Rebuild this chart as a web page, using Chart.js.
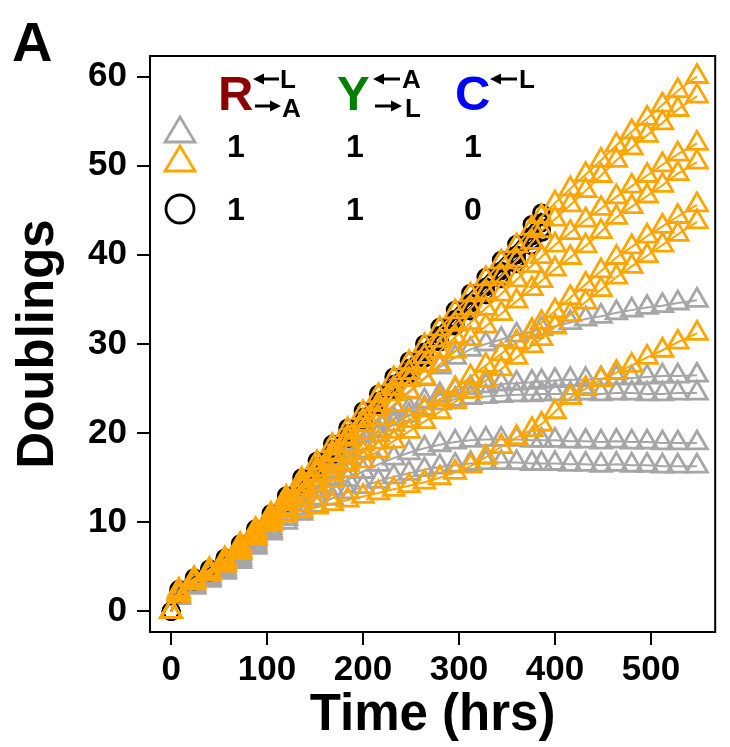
<!DOCTYPE html>
<html>
<head>
<meta charset="utf-8">
<script src="https://cdn.jsdelivr.net/npm/chart.js@4.4.0/dist/chart.umd.min.js"></script>
<style>
  html, body { margin: 0; padding: 0; background: #fff; }
  #wrap { width: 730px; height: 747px; }
</style>
</head>
<body>
<div id="wrap"><canvas id="growthChart" width="730" height="747"></canvas></div>
<script>
// Sampling times (hrs) shared by all populations
const times = [0, 8, 24, 40, 56, 72, 88, 104, 120, 136, 152, 168, 184, 200, 216, 232, 248, 264,
  280, 296, 312, 328, 344, 360, 376, 386, 400, 416, 432, 448, 464, 480, 496, 512, 528, 548];

// Black circles (R=1, Y=1, C=0), followed until ~386 hrs
const black1 = [0, 2.5, 3.8, 4.8, 6.0, 7.6, 9.3, 11.0, 13.0, 15.0, 16.9, 18.8, 20.6, 22.5, 24.4, 26.3, 28.1, 30.0, 31.9, 33.8, 35.7, 37.5, 39.4, 41.2, 43.4, 44.7];
const black2 = [0, 2.2, 3.6, 4.6, 5.8, 7.3, 9.0, 10.6, 12.5, 14.4, 16.3, 18.2, 20.0, 21.8, 23.6, 25.5, 27.3, 29.1, 31.0, 32.8, 34.6, 36.4, 38.2, 40.0, 42.1, 43.6];
const black3 = [0, 2.0, 3.4, 4.4, 5.6, 7.1, 8.7, 10.3, 12.2, 14.0, 15.8, 17.6, 19.4, 21.2, 23.0, 24.8, 26.6, 28.4, 30.2, 32.0, 33.7, 35.5, 37.3, 39.0, 41.0, 42.5];
const black4 = [0, 2.3, 3.5, 4.5, 5.7, 7.2, 8.8, 10.4, 12.3, 14.1, 15.9, 17.7, 19.5, 21.3, 23.2, 25.0, 26.8, 28.6, 30.4, 32.3, 34.1, 35.9, 37.7, 39.5, 41.6, 42.9];

// Grey triangles (1 1 1), the plateauing populations
const grey1 = [0, 1.8, 3.0, 4.0, 5.0, 6.5, 8.2, 9.8, 11.4, 13.0, 14.7, 16.3, 18.0, 19.7, 21.4, 23.0, 24.6, 26.1, 27.4, 28.5, 29.4, 30.0, 30.5, 31.0, 31.4, 31.7, 32.0, 32.4, 32.8, 33.1, 33.5, 33.8, 34.1, 34.3, 34.6, 34.9];
const grey2 = [0, 1.7, 2.9, 3.8, 4.8, 6.2, 7.9, 9.4, 10.9, 12.5, 14.1, 15.7, 17.3, 18.8, 20.3, 21.6, 22.7, 23.6, 24.3, 24.8, 25.1, 25.3, 25.5, 25.6, 25.7, 25.8, 25.9, 26.0, 26.0, 26.1, 26.2, 26.2, 26.3, 26.4, 26.4, 26.5];
const grey3 = [0, 1.6, 2.8, 3.7, 4.6, 6.0, 7.6, 9.1, 10.5, 12.0, 13.5, 15.0, 16.5, 18.0, 19.8, 21.0, 22.0, 22.8, 23.4, 23.8, 24.0, 24.1, 24.2, 24.3, 24.3, 24.4, 24.4, 24.4, 24.5, 24.4, 24.5, 24.5, 24.4, 24.4, 24.5, 24.5];
const grey4 = [0, 1.7, 2.8, 3.6, 4.5, 5.8, 7.4, 9.0, 10.4, 11.6, 12.7, 13.8, 14.8, 15.7, 16.5, 17.2, 17.8, 18.3, 18.7, 19.0, 19.2, 19.3, 19.3, 19.3, 19.2, 19.2, 19.2, 19.1, 19.1, 19.0, 19.1, 19.0, 19.0, 18.9, 18.9, 18.9];
const grey5 = [0, 1.6, 2.7, 3.5, 4.4, 5.6, 7.2, 8.8, 10.0, 11.0, 11.9, 12.7, 13.4, 14.0, 14.6, 15.1, 15.5, 15.9, 16.2, 16.4, 16.6, 16.7, 16.7, 16.7, 16.6, 16.6, 16.6, 16.5, 16.5, 16.4, 16.5, 16.4, 16.4, 16.3, 16.3, 16.3];

// Orange triangles (1 1 1), the populations that kept growing
const orange1 = [0, 2.4, 3.7, 4.7, 5.9, 7.5, 9.2, 10.9, 12.8, 14.8, 16.7, 18.6, 20.4, 22.3, 24.2, 26.1, 27.9, 29.8, 31.7, 33.6, 35.5, 37.3, 39.2, 41.0, 43.0, 44.3, 45.8, 47.4, 49.0, 50.6, 52.3, 53.8, 55.3, 56.8, 58.4, 60.0];
const orange2 = [0, 2.1, 3.5, 4.5, 5.7, 7.2, 8.9, 10.5, 12.4, 14.2, 16.0, 17.8, 19.6, 21.4, 23.2, 25.0, 26.8, 28.6, 30.4, 32.2, 34.0, 35.8, 37.6, 39.4, 41.4, 42.7, 44.0, 45.6, 47.2, 48.9, 50.6, 52.0, 53.4, 54.8, 56.3, 57.8];
const orange3 = [0, 2.2, 3.5, 4.5, 5.7, 7.2, 8.9, 10.6, 12.4, 14.2, 15.9, 17.6, 19.3, 21.0, 22.7, 24.4, 26.0, 27.6, 29.2, 30.8, 32.4, 34.0, 35.6, 37.2, 38.8, 39.8, 41.1, 42.5, 43.9, 45.2, 46.5, 47.7, 48.9, 50.1, 51.3, 52.5];
const orange4 = [0, 2.0, 3.4, 4.4, 5.5, 7.0, 8.7, 10.4, 12.1, 13.8, 15.4, 17.0, 18.6, 20.1, 21.7, 23.2, 24.7, 26.2, 27.7, 29.2, 30.6, 32.0, 33.4, 34.8, 36.2, 37.1, 38.4, 39.7, 41.0, 42.6, 44.2, 45.4, 46.6, 47.8, 49.1, 50.4];
const orange5 = [0, 1.9, 3.3, 4.3, 5.4, 6.8, 8.5, 10.2, 11.6, 12.9, 14.2, 15.4, 16.6, 17.8, 19.0, 20.2, 21.4, 22.6, 23.8, 25.0, 26.3, 27.6, 28.9, 30.2, 31.5, 32.4, 33.7, 35.2, 36.7, 38.2, 39.7, 40.9, 42.1, 43.2, 44.3, 45.6];
const orange6 = [0, 2.1, 3.4, 4.3, 5.3, 6.7, 8.3, 10.0, 11.3, 12.5, 13.6, 14.7, 15.8, 16.9, 18.0, 19.1, 20.2, 21.3, 22.4, 23.5, 24.7, 25.9, 27.2, 28.5, 29.8, 30.6, 31.9, 33.3, 34.7, 36.1, 37.5, 38.7, 39.9, 41.1, 42.3, 43.7];
const orange7 = [0, 1.8, 3.2, 4.2, 5.2, 6.6, 8.2, 9.8, 10.8, 11.3, 11.7, 12.1, 12.5, 12.9, 13.3, 13.7, 14.1, 14.5, 15.0, 15.6, 16.3, 17.3, 18.5, 19.5, 20.4, 21.0, 22.4, 24.0, 25.0, 26.0, 26.8, 27.6, 28.5, 29.3, 30.2, 31.2];

// Axis ticks
const xTicks = [0, 100, 200, 300, 400, 500];
const yTicks = [0, 10, 20, 30, 40, 50, 60];

const FONT = "'Liberation Sans', Arial, Helvetica, sans-serif";
const GREY = '#a6a6a6';
const ORANGE = '#ffa500';

function toPoints(values) {
    return values.map((v, i) => ({ x: times[i], y: v }));
}

function series(values, color, style) {
    const circle = style === 'circle';
    return {
        data: toPoints(values),
        borderColor: color,
        borderWidth: 2,
        pointStyle: style,
        pointRadius: circle ? 8 : 12,
        pointBorderWidth: 2.8,
        pointBorderColor: color,
        pointBackgroundColor: 'rgba(0,0,0,0)',
        fill: false,
        tension: 0
    };
}

// the first dataset is painted last, so orange sits on top
const datasets = [
    ...[orange7, orange6, orange5, orange4, orange3, orange2, orange1].map(v => series(v, ORANGE, 'triangle')),
    ...[black4, black3, black2, black1].map(v => series(v, '#000', 'circle')),
    ...[grey5, grey4, grey3, grey2, grey1].map(v => series(v, GREY, 'triangle'))
];

function drawArrow(ctx, x0, x1, y, pointsLeft) {
    const head = 10;
    ctx.lineWidth = 3;
    ctx.beginPath();
    if (pointsLeft) { ctx.moveTo(x0 + head, y); ctx.lineTo(x1, y); }
    else { ctx.moveTo(x0, y); ctx.lineTo(x1 - head, y); }
    ctx.stroke();
    ctx.beginPath();
    if (pointsLeft) {
        ctx.moveTo(x0, y); ctx.lineTo(x0 + head + 1, y - 5.5); ctx.lineTo(x0 + head + 1, y + 5.5);
    } else {
        ctx.moveTo(x1, y); ctx.lineTo(x1 - head - 1, y - 5.5); ctx.lineTo(x1 - head - 1, y + 5.5);
    }
    ctx.closePath();
    ctx.fill();
}

function triangleKey(ctx, cx, cy, color) {
    ctx.strokeStyle = color;
    ctx.lineWidth = 2.8;
    ctx.beginPath();
    ctx.moveTo(cx - 15, cy + 12);
    ctx.lineTo(cx + 15, cy + 12);
    ctx.lineTo(cx, cy - 13);
    ctx.closePath();
    ctx.stroke();
}

// box, panel letter and the genotype key
const framePlugin = {
    id: 'framePlugin',
    afterDraw(chart) {
        const ctx = chart.ctx;
        const a = chart.chartArea;
        ctx.save();
        ctx.strokeStyle = '#000';
        ctx.lineWidth = 2;
        ctx.strokeRect(a.left, a.top, a.right - a.left, a.bottom - a.top);

        ctx.fillStyle = '#000';
        ctx.textBaseline = 'alphabetic';
        ctx.textAlign = 'left';
        ctx.font = 'bold 56px ' + FONT;
        ctx.fillText('A', 12, 61);

        // column headers
        ctx.font = 'bold 49px ' + FONT;
        ctx.fillStyle = '#8b0000';
        ctx.fillText('R', 218, 110);
        ctx.fillStyle = '#008000';
        ctx.fillText('Y', 337, 110);
        ctx.fillStyle = '#0000ff';
        ctx.fillText('C', 455, 110);

        ctx.fillStyle = '#000';
        ctx.strokeStyle = '#000';
        ctx.font = 'bold 26px ' + FONT;
        drawArrow(ctx, 253, 279, 79, true);
        ctx.fillText('L', 280, 88);
        drawArrow(ctx, 255, 281, 106, false);
        ctx.fillText('A', 282, 117);
        drawArrow(ctx, 373, 400, 79, true);
        ctx.fillText('A', 402, 88);
        drawArrow(ctx, 375, 402, 106, false);
        ctx.fillText('L', 405, 117);
        drawArrow(ctx, 490, 517, 79, true);
        ctx.fillText('L', 519, 88);

        // key symbols
        triangleKey(ctx, 180, 130, GREY);
        triangleKey(ctx, 180, 159, ORANGE);
        ctx.strokeStyle = '#000';
        ctx.beginPath();
        ctx.arc(180, 209, 14, 0, Math.PI * 2);
        ctx.stroke();

        ctx.fillStyle = '#000';
        ctx.textAlign = 'center';
        ctx.font = 'bold 32px ' + FONT;
        ctx.fillText('1', 236, 157);
        ctx.fillText('1', 355, 157);
        ctx.fillText('1', 473, 157);
        ctx.fillText('1', 236, 220);
        ctx.fillText('1', 355, 220);
        ctx.fillText('0', 473, 220);
        ctx.restore();
    }
};

const tickFont = { family: FONT, size: 35, weight: 'bold' };
const titleFont = { family: FONT, size: 51, weight: 'bold' };

new Chart(document.getElementById('growthChart'), {
    type: 'line',
    data: { datasets: datasets },
    options: {
        responsive: false,
        animation: false,
        devicePixelRatio: 1,
        events: [],
        layout: { padding: { top: 56, right: 3, left: 0, bottom: 0 } },
        plugins: {
            legend: { display: false },
            tooltip: { enabled: false }
        },
        scales: {
            x: {
                type: 'linear',
                min: -22,
                max: 567,
                afterFit: scale => { scale.height = 115; },
                afterBuildTicks: scale => { scale.ticks = xTicks.map(v => ({ value: v })); },
                border: { display: false },
                grid: { drawOnChartArea: false, drawTicks: true, tickLength: 13, color: '#000', lineWidth: 2 },
                ticks: { color: '#000', font: tickFont, padding: 4, maxRotation: 0 },
                title: { display: true, text: 'Time (hrs)', color: '#000', font: titleFont, padding: { top: 0, bottom: 0 } }
            },
            y: {
                type: 'linear',
                min: -2.3,
                max: 62.3,
                afterFit: scale => { scale.width = 150; },
                afterBuildTicks: scale => { scale.ticks = yTicks.map(v => ({ value: v })); },
                border: { display: false },
                grid: { drawOnChartArea: false, drawTicks: true, tickLength: 13, color: '#000', lineWidth: 2 },
                ticks: { color: '#000', font: tickFont, padding: 10 },
                title: { display: true, text: 'Doublings', color: '#000', font: titleFont, padding: { top: 8, bottom: 0 } }
            }
        }
    },
    plugins: [framePlugin]
});
</script>
</body>
</html>
